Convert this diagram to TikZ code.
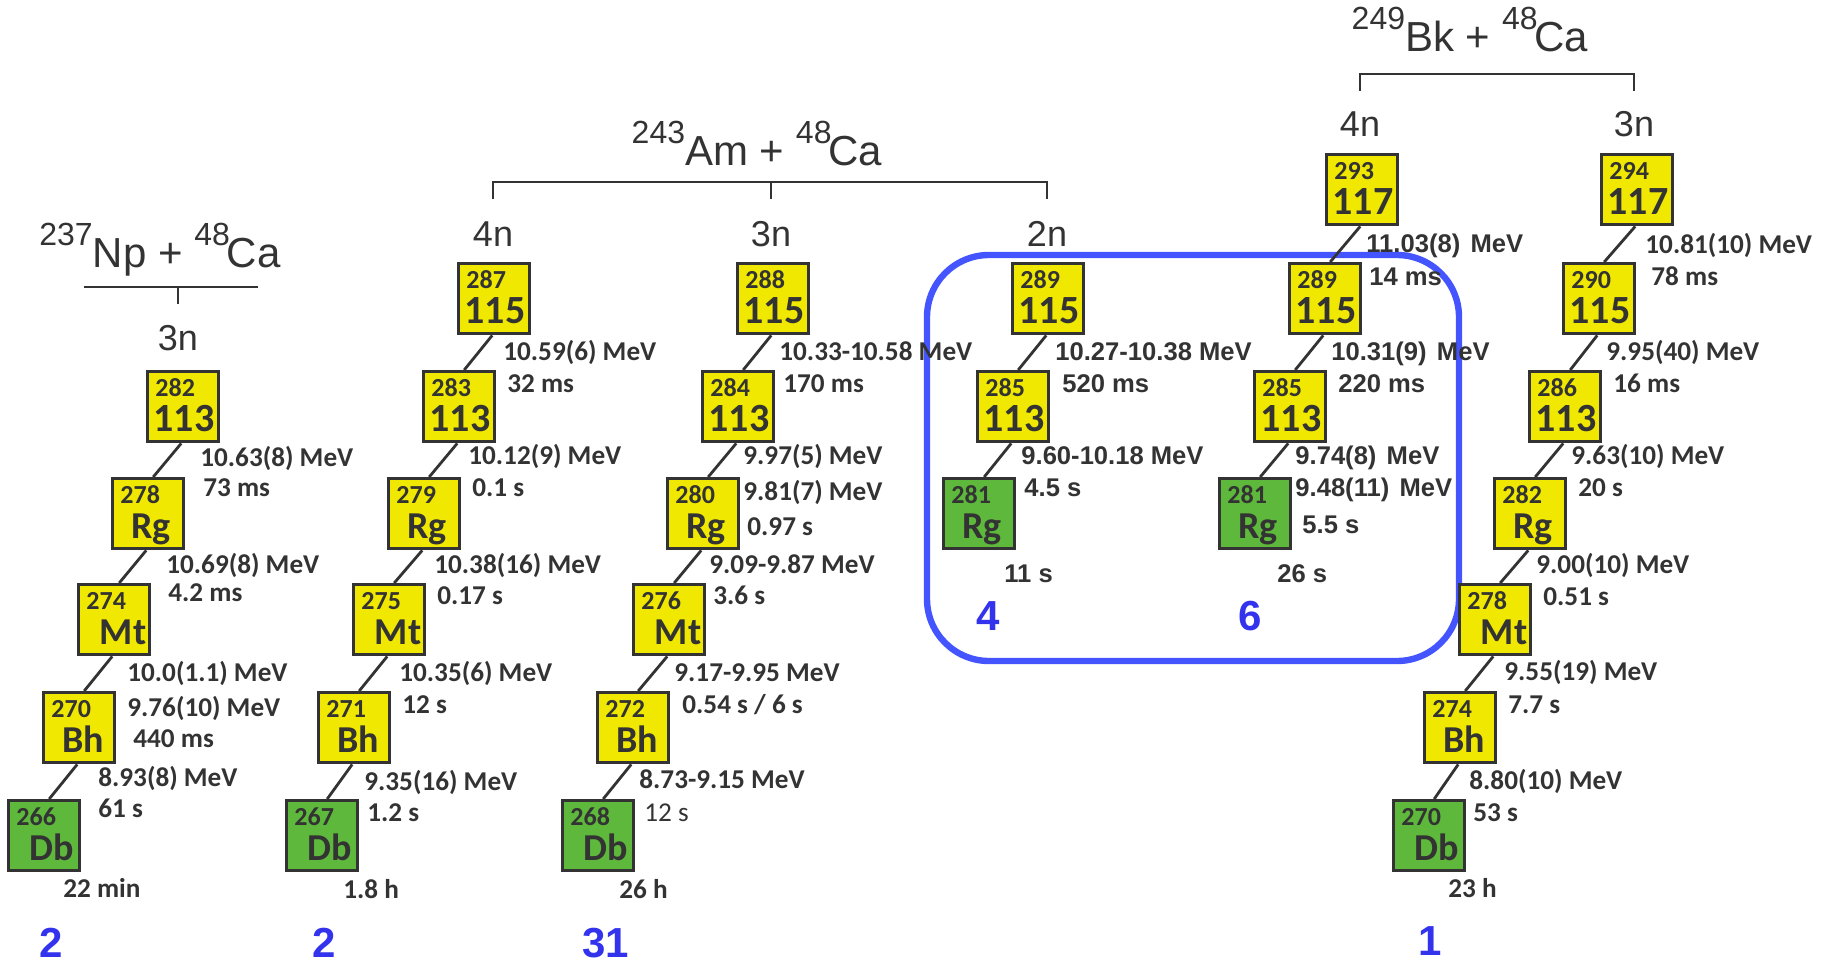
\documentclass[tikz,border=0pt]{standalone}
\usepackage{fontspec}
\setmainfont{Carlito}
\newfontfamily\arialf{Liberation Sans}
\usetikzlibrary{calc}
\definecolor{ink}{RGB}{51,51,51}
\definecolor{nucyel}{RGB}{240,232,0}
\definecolor{nucgrn}{RGB}{93,184,60}
\definecolor{grpblue}{RGB}{68,85,255}
\definecolor{numblue}{RGB}{51,51,238}
\tikzset{
 nbox/.style={draw=ink, line width=1.7pt, minimum width=35.5pt, minimum height=35pt, inner sep=0pt, anchor=north west},
 massn/.style={font=\bfseries\fontsize{13}{13}\selectfont, text=ink, inner sep=0pt, anchor=base west},
 symb/.style={font=\bfseries\fontsize{19}{19}\selectfont, text=ink, inner sep=0pt, anchor=base},
 zsymb/.style={font=\bfseries\fontsize{20}{20}\selectfont, text=ink, inner sep=0pt, anchor=base},
 lab/.style={font=\bfseries\fontsize{13.6}{13.6}\selectfont, text=ink, inner sep=0pt, anchor=base west},
 rlab/.style={font=\fontsize{13.6}{13.6}\selectfont, text=ink, inner sep=0pt, anchor=base west},
 alab/.style={font=\arialf\bfseries\fontsize{12.8}{12.8}\selectfont, text=ink, inner sep=0pt, anchor=base west},
 hdr/.style={font=\arialf\fontsize{21}{21}\selectfont, text=ink, inner sep=0pt, anchor=base},
 nlab/.style={font=\arialf\fontsize{18}{18}\selectfont, text=ink, inner sep=0pt, anchor=base},
 bnum/.style={font=\arialf\bfseries\fontsize{21}{21}\selectfont, text=numblue, inner sep=0pt, anchor=base west},
 decay/.style={draw=ink, line width=1.4pt},
 brack/.style={draw=ink, line width=1.3pt},
 grp/.style={draw=grpblue, line width=3.2pt, rounded corners=31pt}
}
\newcommand{\nuc}[8]{%
 \node[nbox, fill=#6] (#1) at (#2,#3) {};
 \node[massn] (#1m) at ($(#1.north west)+(9,26)$) {#4};
 \node[#8] (#1s) at ($(#1.north west)+(#7,61)$) {#5};
}
\newcommand{\iso}[1]{\raisebox{11pt}{\fontsize{16}{16}\selectfont #1}}
\begin{document}
\begin{tikzpicture}[x=0.5pt,y=-0.5pt]
\useasboundingbox (0,0) rectangle (1826,963);
% group frame
\draw[grp] (927,255) rectangle (1459,661);
% headers
\node[hdr] (hNp) at (160,267) {\iso{237}Np + \iso{48}\kern-1.5pt Ca};
\node[hdr] (hAm) at (757,165) {\iso{243}Am + \iso{48}\kern-1.5pt Ca};
\node[hdr] (hBk) at (1470,52) {\iso{249}Bk + \iso{48}\kern-1.5pt Ca};
\coordinate (npL) at (84,287); \coordinate (npR) at (258,287);
\coordinate (npM) at (178,287); \coordinate (npT) at (178,304);
\draw[brack] (npL) -- (npR); \draw[brack] (npM) -- (npT);
\coordinate (amL) at (493,199); \coordinate (amLt) at (493,182);
\coordinate (amR) at (1047,199); \coordinate (amRt) at (1047,182);
\coordinate (amM) at (771,182); \coordinate (amMb) at (771,199);
\draw[brack] (amL) -- (amLt) -- (amRt) -- (amR); \draw[brack] (amM) -- (amMb);
\coordinate (bkL) at (1360,91); \coordinate (bkLt) at (1360,74);
\coordinate (bkR) at (1634,91); \coordinate (bkRt) at (1634,74);
\draw[brack] (bkL) -- (bkLt) -- (bkRt) -- (bkR);
\node[nlab] (n1) at (178,350) {3n};
\node[nlab] (n2) at (493,246) {4n};
\node[nlab] (n3) at (771,246) {3n};
\node[nlab] (n4) at (1047,246) {2n};
\node[nlab] (n5) at (1360,137) {4n};
\node[nlab] (n6) at (1634,137) {3n};
% column 1
\nuc{a113}{146}{370}{282}{113}{nucyel}{38}{zsymb}
\nuc{aRg}{111}{477}{278}{Rg}{nucyel}{40}{symb}
\nuc{aMt}{77}{583}{274}{Mt}{nucyel}{46}{symb}
\nuc{aBh}{42}{691}{270}{Bh}{nucyel}{41}{symb}
\nuc{aDb}{7}{799}{266}{Db}{nucgrn}{45}{symb}
% column 2
\nuc{b115}{457}{262}{287}{115}{nucyel}{38}{zsymb}
\nuc{b113}{422}{370}{283}{113}{nucyel}{38}{zsymb}
\nuc{bRg}{387}{477}{279}{Rg}{nucyel}{40}{symb}
\nuc{bMt}{352}{583}{275}{Mt}{nucyel}{46}{symb}
\nuc{bBh}{317}{691}{271}{Bh}{nucyel}{41}{symb}
\nuc{bDb}{285}{799}{267}{Db}{nucgrn}{45}{symb}
% column 3
\nuc{c115}{736}{262}{288}{115}{nucyel}{38}{zsymb}
\nuc{c113}{701}{370}{284}{113}{nucyel}{38}{zsymb}
\nuc{cRg}{666}{477}{280}{Rg}{nucyel}{40}{symb}
\nuc{cMt}{632}{583}{276}{Mt}{nucyel}{46}{symb}
\nuc{cBh}{596}{691}{272}{Bh}{nucyel}{41}{symb}
\nuc{cDb}{561}{799}{268}{Db}{nucgrn}{45}{symb}
% column 4
\nuc{d115}{1011}{262}{289}{115}{nucyel}{38}{zsymb}
\nuc{d113}{976}{370}{285}{113}{nucyel}{38}{zsymb}
\nuc{dRg}{942}{477}{281}{Rg}{nucgrn}{40}{symb}
% column 5
\nuc{e117}{1325}{153}{293}{117}{nucyel}{38}{zsymb}
\nuc{e115}{1288}{262}{289}{115}{nucyel}{38}{zsymb}
\nuc{e113}{1253}{370}{285}{113}{nucyel}{38}{zsymb}
\nuc{eRg}{1218}{477}{281}{Rg}{nucgrn}{40}{symb}
% column 6
\nuc{f117}{1600}{153}{294}{117}{nucyel}{38}{zsymb}
\nuc{f115}{1562}{262}{290}{115}{nucyel}{38}{zsymb}
\nuc{f113}{1528}{370}{286}{113}{nucyel}{38}{zsymb}
\nuc{fRg}{1493}{477}{282}{Rg}{nucyel}{40}{symb}
\nuc{fMt}{1458}{583}{278}{Mt}{nucyel}{46}{symb}
\nuc{fBh}{1423}{691}{274}{Bh}{nucyel}{41}{symb}
\nuc{fDb}{1392}{799}{270}{Db}{nucgrn}{45}{symb}
% decay lines
\foreach \u/\v in {a113/aRg,aRg/aMt,aMt/aBh,aBh/aDb,
  b115/b113,b113/bRg,bRg/bMt,bMt/bBh,bBh/bDb,
  c115/c113,c113/cRg,cRg/cMt,cMt/cBh,cBh/cDb,
  d115/d113,d113/dRg,
  e117/e115,e115/e113,e113/eRg,
  f117/f115,f115/f113,f113/fRg,fRg/fMt,fMt/fBh,fBh/fDb}
  \draw[decay] ([xshift=-1pt]\u.south) -- ([xshift=2.5pt]\v.north);
% labels column 1
\node[lab] (a1) at (200,466) {10.63(8) MeV};
\node[lab] (a2) at (203,496) {73 ms};
\node[lab] (a3) at (166,573) {10.69(8) MeV};
\node[lab] (a4) at (168,601) {4.2 ms};
\node[lab] (a5) at (127,681) {10.0(1.1) MeV};
\node[lab] (a6) at (127,716) {9.76(10) MeV};
\node[lab] (a7) at (133,747) {440 ms};
\node[lab] (a8) at (98,786) {8.93(8) MeV};
\node[lab] (a9) at (98,817) {61 s};
\node[lab] (a10) at (63,897) {22 min};
% labels column 2
\node[lab] (b1) at (503,360) {10.59(6) MeV};
\node[lab] (b2) at (507,392) {32 ms};
\node[lab] (b3) at (468,464) {10.12(9) MeV};
\node[lab] (b4) at (472,496) {0.1 s};
\node[lab] (b5) at (434,573) {10.38(16) MeV};
\node[lab] (b6) at (437,604) {0.17 s};
\node[lab] (b7) at (399,681) {10.35(6) MeV};
\node[lab] (b8) at (402,713) {12 s};
\node[lab] (b9) at (364,790) {9.35(16) MeV};
\node[lab] (b10) at (367,821) {1.2 s};
\node[lab] (b11) at (343,898) {1.8 h};
% labels column 3
\node[lab] (c1) at (779,360) {10.33-10.58 MeV};
\node[lab] (c2) at (783,392) {170 ms};
\node[lab] (c3) at (743,464) {9.97(5) MeV};
\node[lab] (c4) at (743,500) {9.81(7) MeV};
\node[lab] (c5) at (747,535) {0.97 s};
\node[lab] (c6) at (709,573) {9.09-9.87 MeV};
\node[lab] (c7) at (713,604) {3.6 s};
\node[lab] (c8) at (674,681) {9.17-9.95 MeV};
\node[lab] (c9) at (682,713) {0.54 s / 6 s};
\node[lab] (c10) at (639,788) {8.73-9.15 MeV};
\node[rlab] (c11) at (644,821) {12 s};
\node[lab] (c12) at (619,898) {26 h};
% labels column 4
\node[alab] (d1) at (1055,360) {10.27-10.38 MeV};
\node[alab] (d2) at (1062,392) {520 ms};
\node[alab] (d3) at (1021,464) {9.60-10.18 MeV};
\node[alab] (d4) at (1024,496) {4.5 s};
\node[alab] (d5) at (1004,582) {11 s};
% labels column 5
\node[alab] (e1) at (1366,252) {11.03(8)\hspace{0.4em}MeV};
\node[alab] (e2) at (1369,285) {14 ms};
\node[alab] (e3) at (1331,360) {10.31(9)\hspace{0.4em}MeV};
\node[alab] (e4) at (1338,392) {220 ms};
\node[alab] (e5) at (1295,464) {9.74(8)\hspace{0.4em}MeV};
\node[alab] (e6) at (1295,496) {9.48(11)\hspace{0.4em}MeV};
\node[alab] (e7) at (1302,533) {5.5 s};
\node[alab] (e8) at (1277,582) {26 s};
% labels column 6
\node[lab] (f1) at (1645,253) {10.81(10) MeV};
\node[lab] (f2) at (1651,285) {78 ms};
\node[lab] (f3) at (1606,360) {9.95(40) MeV};
\node[lab] (f4) at (1613,392) {16 ms};
\node[lab] (f5) at (1571,464) {9.63(10) MeV};
\node[lab] (f6) at (1578,496) {20 s};
\node[lab] (f7) at (1536,573) {9.00(10) MeV};
\node[lab] (f8) at (1543,605) {0.51 s};
\node[lab] (f9) at (1504,680) {9.55(19) MeV};
\node[lab] (f10) at (1508,713) {7.7 s};
\node[lab] (f11) at (1469,789) {8.80(10) MeV};
\node[lab] (f12) at (1473,821) {53 s};
\node[lab] (f13) at (1448,897) {23 h};
% event counts
\node[bnum] (k1) at (39,957) {2};
\node[bnum] (k2) at (312,957) {2};
\node[bnum] (k3) at (582,957) {31};
\node[bnum] (k4) at (1418,955) {1};
\node[bnum] (k5) at (976,630) {4};
\node[bnum] (k6) at (1238,630) {6};
\end{tikzpicture}
\end{document}
